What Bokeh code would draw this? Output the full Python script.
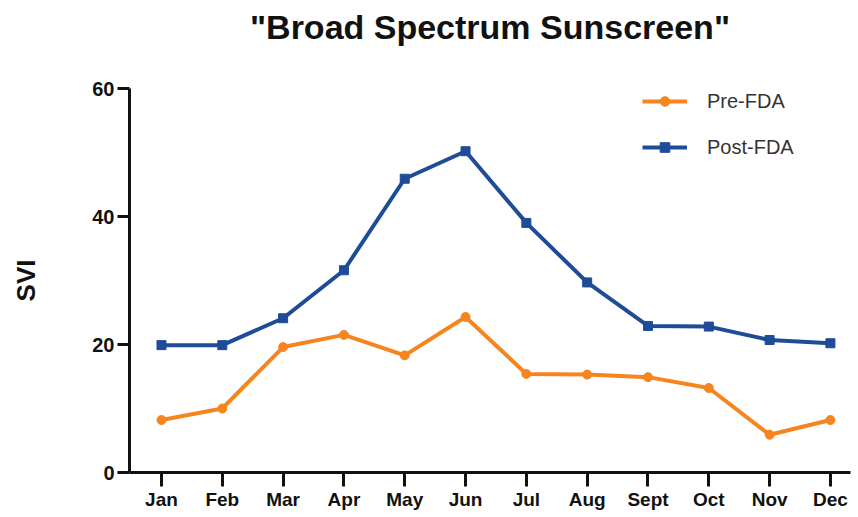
from bokeh.plotting import figure
from bokeh.models import Range1d, FixedTicker, Legend, LegendItem, LinearAxis
from bokeh.embed import file_html
from bokeh.resources import INLINE

months = ["Jan", "Feb", "Mar", "Apr", "May", "Jun", "Jul", "Aug", "Sept", "Oct", "Nov", "Dec"]
pre_fda = [8.2, 10.0, 19.6, 21.5, 18.3, 24.3, 15.4, 15.3, 14.9, 13.2, 5.9, 8.2]
post_fda = [19.9, 19.9, 24.1, 31.6, 45.9, 50.2, 39.0, 29.7, 22.9, 22.8, 20.7, 20.2]
x = list(range(1, 13))
title_text = '"Broad Spectrum Sunscreen"'

ORANGE = "#F6851F"
BLUE = "#1E4C96"
FONT = "Liberation Sans"

p = figure(width=858, height=517, output_backend="svg", toolbar_location=None,
           x_range=Range1d(0.474, 12.33), y_range=Range1d(0, 60),
           min_border_left=129, min_border_right=8, min_border_top=88, min_border_bottom=45)

# title drawn as the label of an otherwise empty axis above the frame
top_axis = LinearAxis(ticker=FixedTicker(ticks=[]), axis_line_color=None,
                      major_tick_line_color=None, minor_tick_line_color=None,
                      major_label_text_font_size="1px",
                      axis_label=title_text, axis_label_text_font=FONT,
                      axis_label_text_font_size="34px", axis_label_text_font_style="bold",
                      axis_label_text_color="#111111", axis_label_standoff=43)
p.add_layout(top_axis, "above")

p.grid.visible = False
p.outline_line_color = None

bottom = p.below[0]
bottom.ticker = FixedTicker(ticks=x)
bottom.major_label_overrides = {i: m for i, m in zip(x, months)}
bottom.major_tick_in = 0
bottom.major_tick_out = 14
bottom.major_label_standoff = 2
bottom.major_label_text_font_size = "19px"

left = p.left[0]
left.ticker = FixedTicker(ticks=[0, 20, 40, 60])
left.major_tick_in = 0
left.major_tick_out = 12
left.major_label_standoff = 3
left.major_label_text_font_size = "20px"
left.axis_label = "SVI"
left.axis_label_text_font = FONT
left.axis_label_text_font_style = "bold"
left.axis_label_text_font_size = "26px"
left.axis_label_text_color = "#111111"
left.axis_label_standoff = 48

for ax in (bottom, left):
    ax.axis_line_width = 3
    ax.axis_line_color = "#111111"
    ax.major_tick_line_width = 3
    ax.major_tick_line_color = "#111111"
    ax.minor_tick_line_color = None
    ax.major_label_text_font = FONT
    ax.major_label_text_font_style = "bold"
    ax.major_label_text_color = "#111111"

r1 = p.line(x, pre_fda, line_color=ORANGE, line_width=4)
m1 = p.scatter(x, pre_fda, marker="circle", size=9, fill_color=ORANGE, line_color=ORANGE)
r2 = p.line(x, post_fda, line_color=BLUE, line_width=4)
m2 = p.scatter(x, post_fda, marker="square", size=9, fill_color=BLUE, line_color=BLUE)

legend = Legend(items=[LegendItem(label="Pre-FDA", renderers=[r1, m1]),
                       LegendItem(label="Post-FDA", renderers=[r2, m2])],
                location=(513, 313), border_line_color=None, background_fill_alpha=0,
                glyph_width=45, glyph_height=24, label_height=24, label_standoff=20, spacing=22,
                label_text_font=FONT, label_text_font_size="20px", label_text_color="#333333",
                margin=0, padding=0)
p.add_layout(legend)

open("out.html", "w").write(file_html(p, INLINE))
